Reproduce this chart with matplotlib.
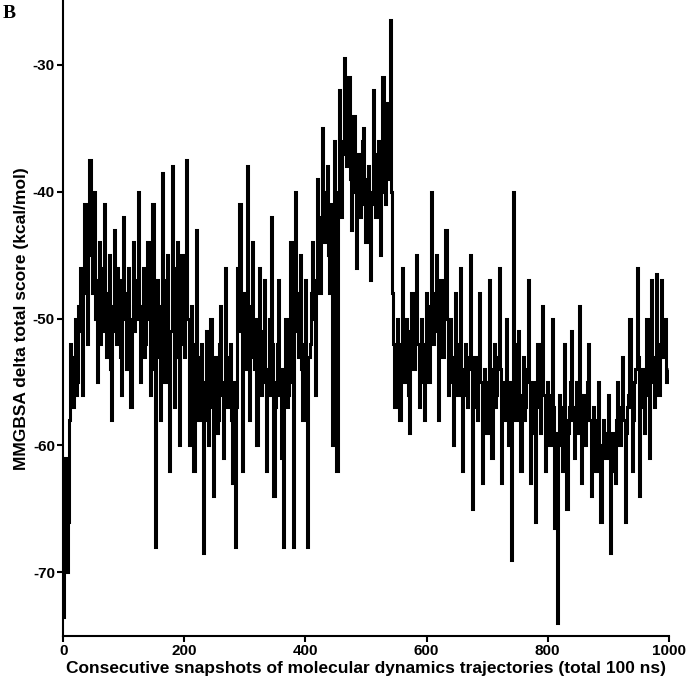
import matplotlib
matplotlib.use('Agg')
import matplotlib.pyplot as plt
import numpy as np

plt.rcParams['axes.unicode_minus'] = False

# MMGBSA delta total score, one value every 2 snapshots
block_0 = [-73.5, -64, -61, -70, -66, -58, -52, -55, -57, -53, -50, -56, -55, -49, -46, -51, -56,
           -47, -41, -48, -52, -42, -37.5, -45, -48, -43, -40, -50, -55, -47, -44, -52, -51, -46,
           -41, -49, -53, -48, -45, -54, -58, -49, -43, -51, -52, -46, -47, -53, -56, -50]
block_100 = [-42, -49, -54, -48, -46, -52, -57, -50, -44, -51, -50, -47, -40, -49, -55, -51, -46,
             -53, -52, -48, -44, -50, -56, -49, -41, -54, -68, -52, -47, -53, -58, -49, -38.5, -47,
             -55, -50, -45, -54, -62, -51, -38, -46, -57, -51, -44, -53, -60, -50, -45, -52]
block_200 = [-53, -47, -37.5, -50, -60, -54, -49, -56, -62, -52, -43, -55, -58, -53, -52, -57,
             -68.5, -55, -51, -58, -60, -54, -50, -57, -64, -56, -53, -59, -58, -52, -49, -56, -61,
             -55, -46, -53, -57, -54, -52, -58, -63, -55, -68, -57, -46, -51, -41, -50, -62, -53]
block_300 = [-48, -54, -38, -49, -58, -51, -44, -53, -54, -50, -60, -53, -46, -55, -56, -51, -47,
             -55, -62, -54, -50, -56, -42, -52, -64, -57, -55, -52, -47, -56, -61, -54, -68, -56,
             -50, -57, -56, -52, -44, -55, -68, -51, -40, -48, -53, -49, -45, -54, -58, -52]
block_400 = [-47, -55, -68, -53, -52, -48, -44, -50, -56, -47, -39, -45, -48, -42, -35, -43, -44,
             -40, -38, -45, -48, -41, -60, -44, -36, -42, -62, -40, -32, -39, -42, -36, -29.5, -37,
             -38, -34, -31, -39, -43, -37, -34, -40, -46, -38, -37, -42, -41, -36, -35, -40]
block_500 = [-44, -39, -38, -43, -47, -40, -32, -41, -42, -37, -36, -42, -45, -39, -31, -40, -41,
             -36, -33, -39, -26.5, -40, -48, -52, -57, -53, -50, -55, -58, -52, -46, -53, -55, -50,
             -51, -56, -59, -53, -48, -54, -54, -50, -45, -52, -57, -53, -50, -55, -58, -52]
block_600 = [-48, -52, -55, -49, -40, -50, -52, -48, -45, -51, -58, -50, -47, -53, -53, -49, -43,
             -50, -56, -52, -50, -55, -60, -53, -48, -55, -56, -52, -46, -54, -62, -55, -52, -56,
             -57, -53, -45, -54, -65, -56, -53, -57, -58, -54, -48, -55, -63, -56, -54, -57]
block_700 = [-59, -55, -47, -54, -61, -56, -52, -57, -56, -53, -46, -54, -63, -57, -55, -58, -50,
             -56, -60, -55, -69, -58, -40, -52, -58, -55, -51, -57, -62, -56, -53, -58, -57, -54,
             -47, -55, -63, -58, -55, -59, -66, -57, -52, -56, -59, -55, -49, -56, -62, -57]
block_800 = [-55, -58, -60, -56, -50, -57, -66.5, -59, -74, -60, -56, -59, -62, -57, -52, -58,
             -65, -59, -57, -55, -51, -58, -61, -57, -55, -59, -49, -56, -63, -59, -56, -60, -58,
             -55, -52, -58, -64, -60, -57, -59, -62, -58, -55, -60, -66, -60, -58, -61, -61, -59]
block_900 = [-56, -61, -68.5, -62, -59, -60, -63, -58, -55, -60, -60, -57, -53, -58, -66, -59,
             -57, -56, -50, -57, -62, -58, -55, -54, -46, -53, -64, -57, -54, -56, -59, -55, -50,
             -56, -61, -55, -47, -53, -57, -54, -46.5, -52, -56, -53, -47, -51, -53, -50, -55, -54]

score = np.array(block_0 + block_100 + block_200 + block_300 + block_400 +
                 block_500 + block_600 + block_700 + block_800 + block_900)
snapshot = np.arange(len(score)) * 2

fig = plt.figure(figsize=(6.88, 6.88), dpi=100)
ax = fig.add_axes([0.092, 0.076, 0.88, 0.922])

# vertical-stroke look of the original trace
ax.plot(snapshot, score, color='black', linewidth=2.2, drawstyle='steps-mid',
        solid_joinstyle='miter', solid_capstyle='butt')

ax.set_xlim(0, 1000)
ax.set_ylim(-75, -25)
ax.set_xticks([0, 200, 400, 600, 800, 1000])
ax.set_yticks([-70, -60, -50, -40, -30])

for side in ['top', 'right']:
    ax.spines[side].set_visible(False)
for side in ['left', 'bottom']:
    ax.spines[side].set_linewidth(1.5)

ax.tick_params(direction='out', length=4, width=1.5, labelsize=11, pad=2)
for lbl in ax.get_xticklabels() + ax.get_yticklabels():
    lbl.set_fontfamily('Liberation Sans')
    lbl.set_fontweight('bold')

ax.set_xlabel('Consecutive snapshots of molecular dynamics trajectories (total 100 ns)',
              fontsize=12.5, fontweight='bold', family='Liberation Sans', labelpad=2)
ax.set_ylabel('MMGBSA delta total score (kcal/mol)',
              fontsize=12.5, fontweight='bold', family='Liberation Sans', labelpad=3)

fig.text(0.004, 0.993, 'B', fontsize=14, fontweight='bold',
         family='Liberation Serif', va='top', ha='left')

fig.savefig('out.png', dpi=100)
